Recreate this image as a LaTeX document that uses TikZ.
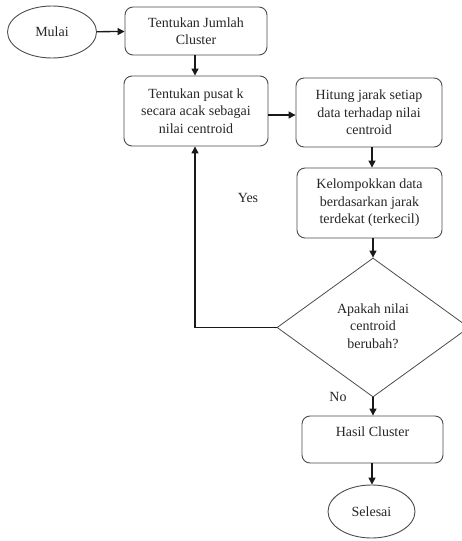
\documentclass[tikz,border=0pt]{standalone}
\usepackage{fontspec}
\setmainfont{Liberation Serif}
\usetikzlibrary{shapes.geometric,arrows.meta}
\begin{document}
\begin{tikzpicture}[x=1pt,y=-1pt,
  every node/.style={font=\fontsize{14}{17.5}\selectfont, text=black!85},
  procbox/.style={draw=black!70, line width=0.9pt, rounded corners=8pt, align=center, inner sep=0pt},
  term/.style={ellipse, draw=black!70, line width=0.9pt, inner sep=0pt},
  decision/.style={diamond, draw=black!70, line width=0.8pt, inner sep=0pt, align=center},
  flow/.style={draw=black!90, line width=1.3pt, -{Triangle[length=7pt,width=7pt]}},
  lbl/.style={inner sep=0pt, align=center}]
\useasboundingbox (0,0) rectangle (461,541);
\fill[white] (0,0) rectangle (461,541);
\node[term, minimum width=89pt, minimum height=52pt] (mulai) at (52,32) {Mulai};
\node[procbox, minimum width=142pt, minimum height=48pt] (jumlah) at (196,31) {Tentukan Jumlah\\Cluster};
\node[procbox, minimum width=144pt, minimum height=70pt] (pusat) at (196,111) {Tentukan pusat k\\secara acak sebagai\\nilai centroid};
\node[procbox, minimum width=146pt, minimum height=69pt] (hitung) at (369,112.5) {Hitung jarak setiap\\data terhadap nilai\\centroid};
\node[procbox, minimum width=145pt, minimum height=70pt] (kelompok) at (369.5,203) {Kelompokkan data\\berdasarkan jarak\\terdekat (terkecil)};
\node[decision, minimum width=192pt, minimum height=139pt] (cek) at (373,327.5) {};
\node[lbl] (cektxt) at (373,326) {Apakah nilai\\centroid\\berubah?};
\node[procbox, minimum width=141pt, minimum height=47pt] (hasil) at (372.5,439.5) {};
\node[lbl] (hasiltxt) at (372.5,432) {Hasil Cluster};
\node[term, minimum width=87pt, minimum height=53pt] (selesai) at (371.5,511.5) {Selesai};
\node[lbl] (yes) at (248,198) {Yes};
\node[lbl] (no) at (338,397) {No};
\coordinate (corner) at (195,327.5);
\draw[flow] (mulai) -- (jumlah);
\draw[flow] (jumlah.south -| 195,0) -- (pusat.north -| 195,0);
\draw[flow] (pusat.east |- 0,115) -- (hitung.west |- 0,115);
\draw[flow] (hitung.south -| 372,0) -- (kelompok.north -| 372,0);
\draw[flow] (kelompok.south -| 373,0) -- (cek.north);
\draw[flow] (cek.west) -- (corner) -- (pusat.south -| corner);
\draw[flow] (cek.south) -- (hasil.north -| cek.south);
\draw[flow] (hasil.south -| 372,0) -- (selesai.north -| 372,0);
\end{tikzpicture}
\end{document}
